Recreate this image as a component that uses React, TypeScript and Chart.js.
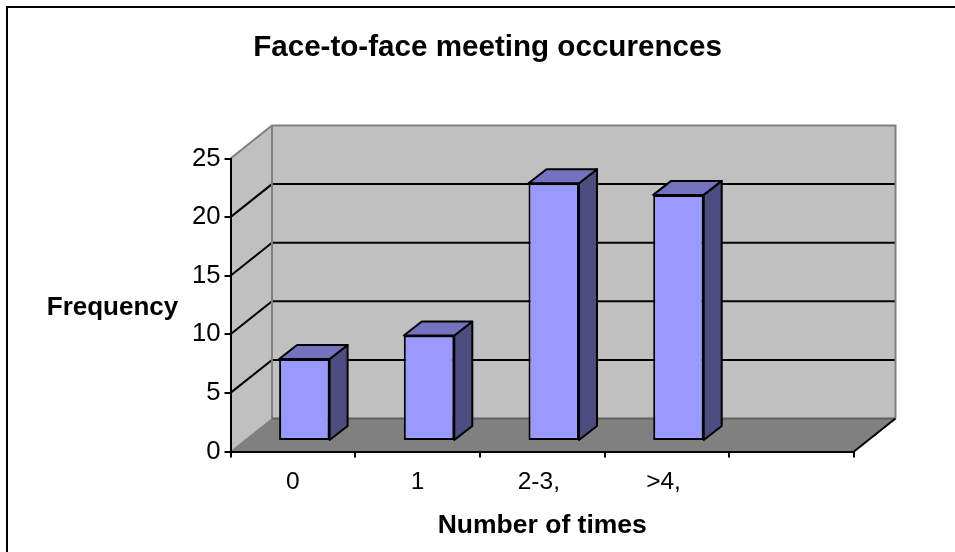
import React, { useEffect, useRef } from "react";
import { Chart, registerables } from "chart.js";

Chart.register(...registerables);

const categories = ["0", "1", "2-3, ", ">4, ", ""];
const frequencies = [7, 9, 22, 21, null];
const yTicks = [0, 5, 10, 15, 20, 25];

const FONT = "'Liberation Sans', Arial, sans-serif";
const DEPTH_X = 41.5;
const DEPTH_Y = 33;
const BAR_DEPTH_X = 18;
const BAR_DEPTH_Y = 14;
const BAR_SHIFT_X = 11.5;
const BAR_SHIFT_Y = 10.5;

function poly(ctx: any, pts: number[][], fill?: string, stroke?: string, w = 2) {
  ctx.beginPath();
  pts.forEach((p, i) => (i ? ctx.lineTo(p[0], p[1]) : ctx.moveTo(p[0], p[1])));
  ctx.closePath();
  if (fill) {
    ctx.fillStyle = fill;
    ctx.fill();
  }
  if (stroke) {
    ctx.strokeStyle = stroke;
    ctx.lineWidth = w;
    ctx.lineJoin = "round";
    ctx.stroke();
  }
}

function line(ctx: any, pts: number[][], stroke: string, w = 2) {
  ctx.beginPath();
  pts.forEach((p, i) => (i ? ctx.lineTo(p[0], p[1]) : ctx.moveTo(p[0], p[1])));
  ctx.strokeStyle = stroke;
  ctx.lineWidth = w;
  ctx.stroke();
}

const frame3d = {
  id: "frame3d",
  beforeDraw(chart: any) {
    if (chart.titleBlock) {
      chart.titleBlock.left = 20;
      chart.titleBlock.right = 955;
    }
    const { ctx, chartArea: a, scales } = chart;
    const { left: l, right: r, top: t, bottom: b } = a;
    const dx = DEPTH_X;
    const dy = DEPTH_Y;
    ctx.save();
    line(ctx, [[7, 552], [7, 7], [955, 7]], "#000000", 2);
    ctx.fillStyle = "#000000";
    ctx.font = `bold 26px ${FONT}`;
    ctx.textAlign = "center";
    ctx.textBaseline = "middle";
    ctx.fillText("Frequency", 112.5, 308);
    // side wall, back wall, floor
    poly(ctx, [[l, b], [l, t], [l + dx, t - dy], [l + dx, b - dy]], "#C0C0C0");
    poly(ctx, [[l + dx, t - dy], [r + dx, t - dy], [r + dx, b - dy], [l + dx, b - dy]], "#C0C0C0");
    poly(ctx, [[l, b], [l + dx, b - dy], [r + dx, b - dy], [r, b]], "#808080");
    // gridlines follow the value scale
    yTicks.slice(1, -1).forEach((v) => {
      const y = scales.y.getPixelForValue(v);
      line(ctx, [[l, y], [l + dx, y - dy], [r + dx, y - dy]], "#000000", 2);
    });
    // wall edges
    line(ctx, [[l, t], [l + dx, t - dy], [r + dx, t - dy], [r + dx, b - dy]], "#808080", 2);
    line(ctx, [[l + dx, t - dy], [l + dx, b - dy]], "#808080", 2);
    line(ctx, [[l + dx, b - dy], [r + dx, b - dy]], "#606060", 2);
    line(ctx, [[l, b], [l + dx, b - dy]], "#808080", 1);
    line(ctx, [[r, b], [r + dx, b - dy]], "#000000", 2);
    ctx.restore();
  },
  beforeDatasetDraw(chart: any) {
    const ctx = chart.ctx;
    ctx.save();
    ctx.translate(BAR_SHIFT_X, -BAR_SHIFT_Y);
    chart.getDatasetMeta(0).data.forEach((bar: any, i: number) => {
      if (frequencies[i] == null) return;
      const { x, y, base, width } = bar.getProps(["x", "y", "base", "width"]);
      const x0 = x - width / 2;
      const x1 = x + width / 2;
      const ex = BAR_DEPTH_X;
      const ey = BAR_DEPTH_Y;
      poly(ctx, [[x1, base], [x1, y], [x1 + ex, y - ey], [x1 + ex, base - ey]], "#4D4D80", "#000000", 2);
      poly(ctx, [[x0, y], [x0 + ex, y - ey], [x1 + ex, y - ey], [x1, y]], "#7373BF", "#000000", 2);
    });
  },
  afterDatasetDraw(chart: any) {
    chart.ctx.restore();
  },
};

export default function App() {
  const ref = useRef<HTMLCanvasElement>(null);
  useEffect(() => {
    const chart = new Chart(ref.current as HTMLCanvasElement, {
      type: "bar",
      data: {
        labels: categories,
        datasets: [
          {
            label: "Frequency",
            data: frequencies,
            backgroundColor: "#9999FF",
            borderColor: "#000000",
            borderWidth: 2,
            borderSkipped: false,
            categoryPercentage: 1,
            barPercentage: 0.405,
            clip: false,
          } as any,
        ],
      },
      options: {
        responsive: false,
        animation: false,
        events: [],
        layout: { autoPadding: false, padding: { top: 0, left: 0, right: 101, bottom: 0 } },
        plugins: {
          legend: { display: false },
          tooltip: { enabled: false },
          title: {
            display: true,
            text: "Face-to-face meeting occurences",
            color: "#000000",
            font: { family: FONT, size: 29.6, weight: "bold" },
            padding: { top: 30, bottom: 93 },
          },
        },
        scales: {
          x: {
            grid: { drawOnChartArea: false, color: "#000000", tickLength: 6, offset: true, lineWidth: 2 },
            border: { color: "#000000", width: 2 },
            ticks: { color: "#000000", font: { family: FONT, size: 24.5 }, padding: 10.3, maxRotation: 0, autoSkip: false },
            title: {
              display: true,
              text: "Number of times",
              color: "#000000",
              font: { family: FONT, size: 26.5, weight: "bold" },
              padding: { top: 8, bottom: 10 },
            },
            afterFit: (s: any) => {
              s.height = 100.5;
            },
          },
          y: {
            min: 0,
            max: 25,
            afterBuildTicks: (s: any) => {
              s.ticks = yTicks.map((value) => ({ value }));
            },
            grid: { drawOnChartArea: false, color: "#000000", tickLength: 6, lineWidth: 2 },
            border: { color: "#000000", width: 2 },
            ticks: { color: "#000000", font: { family: FONT, size: 25.7 }, padding: 4 },
            afterFit: (s: any) => {
              s.width = 230.5;
            },
          },
        },
      },
      plugins: [frame3d],
    } as any);
    return () => chart.destroy();
  }, []);
  return <canvas ref={ref} width={955} height={552} style={{ display: "block", position: "absolute", left: 0, top: 0 }} />;
}
